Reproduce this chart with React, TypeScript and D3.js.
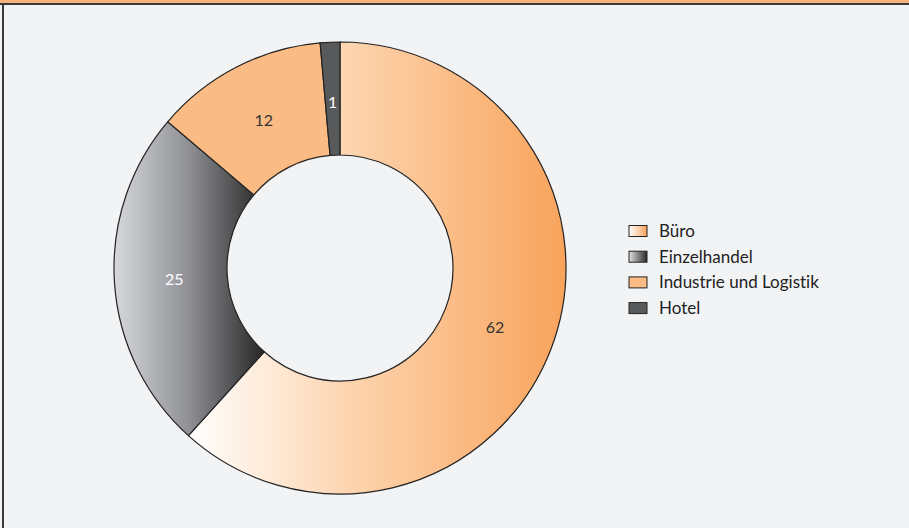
import React from "react";
import * as d3 from "d3";

const categories = ["Büro", "Einzelhandel", "Industrie und Logistik", "Hotel"];
const values = [61.7, 24.5, 12.4, 1.4];
const labelColors = ["#333333", "#ffffff", "#333333", "#ffffff"];

const W = 909;
const H = 528;

export default function App() {
  const cx = 340;
  const cy = 268;
  const outerR = 226;
  const innerR = 113;
  const labelR = 166;

  const data = categories.map((c, i) => ({ c, v: values[i], i }));
  const pie = d3.pie<any>().value((d) => d.v).sort(null);
  const arcs = pie(data);
  const arc = d3.arc<any>().innerRadius(innerR).outerRadius(outerR);
  const labelArc = d3.arc<any>().innerRadius(labelR).outerRadius(labelR);

  const fills = ["url(#gBuro)", "url(#gEinzel)", "#fbbb84", "#58595b"];
  const font = "Lato, 'Open Sans', sans-serif";

  const legendX = 629;
  const legendY0 = 231;
  const legendStep = 25.7;

  return (
    <svg
      width={W}
      height={H}
      style={{ position: "absolute", left: 0, top: 0, fontVariantLigatures: "none" }}
    >
      <defs>
        <linearGradient id="gBuro" gradientUnits="objectBoundingBox" x1="0" y1="0" x2="1" y2="0">
          <stop offset="0" stopColor="#ffffff" />
          <stop offset="0.45" stopColor="#fdd2ab" />
          <stop offset="1" stopColor="#f8a35b" />
        </linearGradient>
        <linearGradient id="gEinzel" gradientUnits="objectBoundingBox" x1="0" y1="0" x2="1" y2="0">
          <stop offset="0" stopColor="#d6d8db" />
          <stop offset="0.5" stopColor="#8f9095" />
          <stop offset="1" stopColor="#262626" />
        </linearGradient>
        <linearGradient id="lgBuro" x1="0" y1="0" x2="1" y2="0">
          <stop offset="0" stopColor="#ffffff" />
          <stop offset="1" stopColor="#f8a35b" />
        </linearGradient>
        <linearGradient id="lgEinzel" x1="0" y1="0" x2="1" y2="0">
          <stop offset="0" stopColor="#e0e1e3" />
          <stop offset="1" stopColor="#2a2a2a" />
        </linearGradient>
      </defs>
      <rect x={0} y={0} width={W} height={H} fill="#f2f3f5" />
      <rect x={0} y={0} width={W} height={3} fill="#f9b27a" />
      <rect x={0} y={3} width={W} height={2} fill="#3a3a3a" />
      <rect x={2} y={3} width={2} height={H - 3} fill="#3a3a3a" />

      <g transform={`translate(${cx},${cy})`}>
        {arcs.map((a, i) => (
          <path
            key={i}
            d={arc(a) as string}
            fill={fills[i]}
            stroke="#222"
            strokeWidth={1.2}
          />
        ))}
        {arcs.map((a, i) => {
          const [x, y] = labelArc.centroid(a);
          return (
            <text
              key={"t" + i}
              x={x}
              y={y}
              dy="0.35em"
              textAnchor="middle"
              fontFamily={font}
              fontSize={16}
              fill={labelColors[i]}
            >
              {Math.round(values[i])}
            </text>
          );
        })}
      </g>

      {categories.map((c, i) => {
        const y = legendY0 + i * legendStep;
        const f = ["url(#lgBuro)", "url(#lgEinzel)", "#fbbb84", "#58595b"][i];
        return (
          <g key={"l" + i}>
            <rect
              x={legendX}
              y={y - 5.5}
              width={18}
              height={11}
              fill={f}
              stroke="#222"
              strokeWidth={1}
            />
            <text
              x={legendX + 30}
              y={y}
              dy="0.35em"
              fontFamily={font}
              fontSize={17}
              fill="#222"
            >
              {c}
            </text>
          </g>
        );
      })}
    </svg>
  );
}
